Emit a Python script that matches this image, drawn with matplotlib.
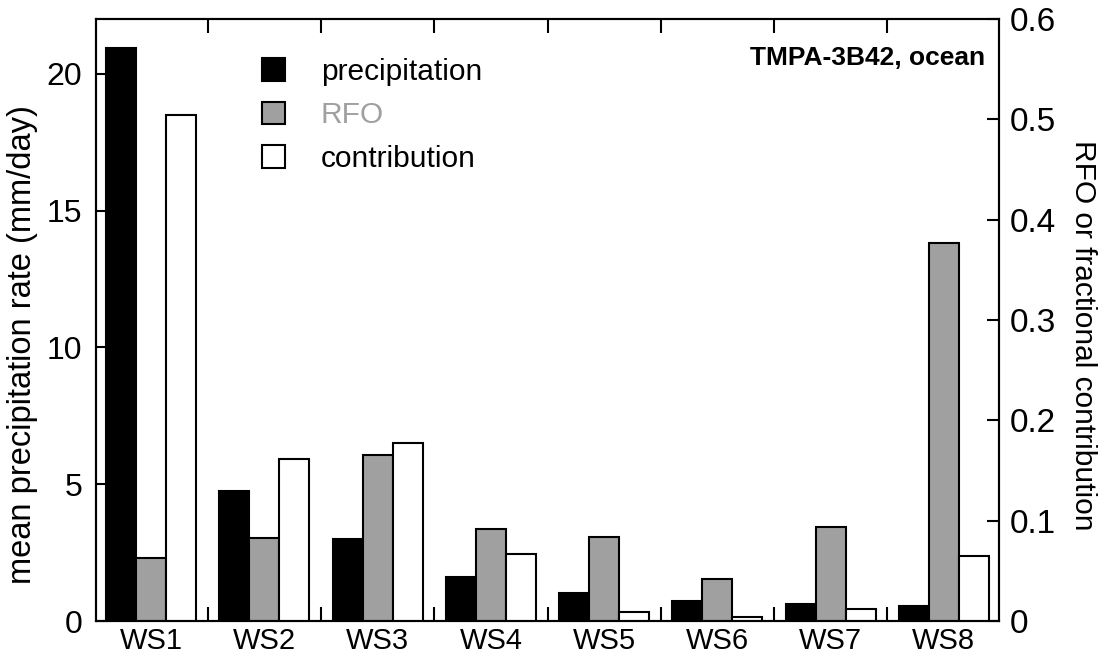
import matplotlib
matplotlib.use('Agg')
import matplotlib.pyplot as plt
import numpy as np
from matplotlib.patches import Patch
from matplotlib.ticker import FixedLocator

plt.rcParams['font.family'] = ['Liberation Sans', 'DejaVu Sans']

regimes = ['WS1', 'WS2', 'WS3', 'WS4', 'WS5', 'WS6', 'WS7', 'WS8']
precip = [20.95, 4.76, 3.0, 1.62, 1.01, 0.73, 0.62, 0.56]
rfo = [0.0625, 0.083, 0.165, 0.0915, 0.0834, 0.042, 0.094, 0.377]
contrib = [0.504, 0.161, 0.177, 0.067, 0.0087, 0.004, 0.012, 0.065]

x = np.arange(len(regimes))
w = 0.265

fig = plt.figure(figsize=(11.01, 6.55), dpi=100)
ax = fig.add_axes([0.0872, 0.0519, 0.8202, 0.9191])
ax2 = ax.twinx()

ax.bar(x - w, precip, w, color='black', edgecolor='black', linewidth=1.5)
ax2.bar(x, rfo, w, color='#a0a0a0', edgecolor='black', linewidth=1.5)
ax2.bar(x + w, contrib, w, color='white', edgecolor='black', linewidth=1.5)

ax.set_xlim(-0.487, 7.487)
ax.set_ylim(0, 22)
ax2.set_ylim(0, 0.6)

ax.set_xticks(x)
ax.set_xticklabels(regimes)
ax.xaxis.set_minor_locator(FixedLocator(x[:-1] + 0.5))
ax.tick_params(axis='x', which='major', length=0, labelsize=21, pad=4)
ax.tick_params(axis='x', which='minor', direction='in', length=10, width=1.5,
               top=True, bottom=True)
ax.set_yticks([0, 5, 10, 15, 20])
ax.tick_params(axis='y', direction='in', length=9, width=1.5, labelsize=23, pad=10)
ax2.set_yticks([0, 0.1, 0.2, 0.3, 0.4, 0.5, 0.6])
ax2.set_yticklabels(['0', '0.1', '0.2', '0.3', '0.4', '0.5', '0.6'])
ax2.tick_params(axis='y', direction='in', length=9, width=1.5, labelsize=24, pad=8)

for a in (ax, ax2):
    for s in a.spines.values():
        s.set_linewidth(1.5)

ax.set_ylabel('mean precipitation rate (mm/day)', fontsize=23.5, va='center')
ax.yaxis.set_label_coords(-0.081, 0.46)
ax2.set_ylabel('RFO or fractional contribution', fontsize=21.5, rotation=270, va='center')
ax2.yaxis.set_label_coords(1.093, 0.475)

ax2.text(0.985, 0.935, 'TMPA-3B42, ocean', transform=ax.transAxes, ha='right',
         va='center', fontsize=19, fontweight='bold')

handles = [Patch(facecolor='black', edgecolor='black', linewidth=1.5),
           Patch(facecolor='#a0a0a0', edgecolor='black', linewidth=1.5),
           Patch(facecolor='white', edgecolor='black', linewidth=1.5)]
leg = ax2.legend(handles, ['precipitation', 'RFO', 'contribution'],
                 loc='upper left', bbox_to_anchor=(0.154, 0.98), frameon=False,
                 fontsize=21.5, handlelength=0.77, handleheight=0.77,
                 handletextpad=1.2, labelspacing=0.52)
leg.get_texts()[1].set_color('#a0a0a0')

fig.savefig('out.png', dpi=100)
